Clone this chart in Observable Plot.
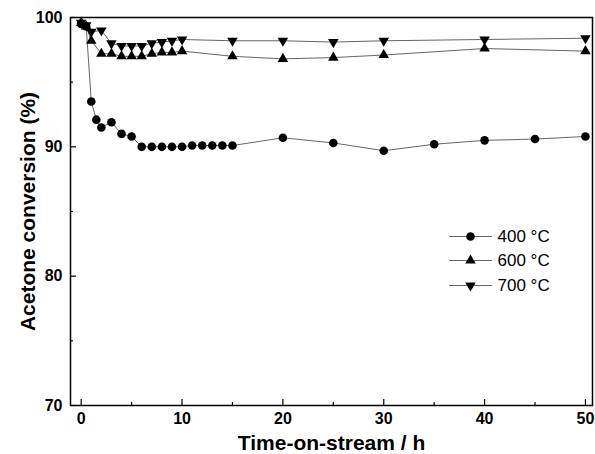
<!DOCTYPE html>
<html><head><meta charset="utf-8">
<script src="https://cdn.jsdelivr.net/npm/d3@7"></script>
<script src="https://cdn.jsdelivr.net/npm/@observablehq/plot@0.6"></script>
<style>
body{margin:0;background:#fff}
#chart svg{font-family:"Liberation Sans",Arial,sans-serif;background:#fff}
</style>
</head><body><div id="chart"></div>
<script>
const seriesNames = ["400 °C", "600 °C", "700 °C"];
const hours400 = [0, 0.5, 1, 1.5, 2, 3, 4, 5, 6, 7, 8, 9, 10, 11, 12, 13, 14, 15, 20, 25, 30, 35, 40, 45, 50];
const conv400  = [99.5, 99.3, 93.5, 92.1, 91.5, 91.9, 91.0, 90.8, 90.0, 90.0, 90.0, 90.0, 90.0, 90.1, 90.1, 90.1, 90.1, 90.1, 90.7, 90.3, 89.7, 90.2, 90.5, 90.6, 90.8];
const hours600 = [0, 0.5, 1, 2, 3, 4, 5, 6, 7, 8, 9, 10, 15, 20, 25, 30, 40, 50];
const conv600  = [99.6, 99.3, 98.2, 97.2, 97.2, 97.0, 97.0, 97.0, 97.2, 97.3, 97.3, 97.4, 97.0, 96.8, 96.9, 97.1, 97.6, 97.4];
const hours700 = [0, 0.5, 1, 2, 3, 4, 5, 6, 7, 8, 9, 10, 15, 20, 25, 30, 40, 50];
const conv700  = [99.6, 99.4, 98.9, 99.0, 98.0, 97.8, 97.8, 97.8, 98.0, 98.1, 98.2, 98.3, 98.2, 98.2, 98.1, 98.2, 98.3, 98.4];
const xMajorTicks = [0, 10, 20, 30, 40, 50];
const xMinorTicks = [5, 15, 25, 35, 45];
const yMajorTicks = [70, 80, 90, 100];
const yMinorTicks = [75, 85, 95];
const xTitle = "Time-on-stream / h";
const yTitle = "Acetone conversion (%)";

const seriesData = [
  hours400.map((h, i) => ({s: seriesNames[0], h, v: conv400[i]})),
  hours600.map((h, i) => ({s: seriesNames[1], h, v: conv600[i]})),
  hours700.map((h, i) => ({s: seriesNames[2], h, v: conv700[i]}))
];
const allRows = seriesData.flat();

const markerStyles = [
  {symbol: "circle", r: 4.3, rotate: 0},
  {symbol: "triangle", r: 3.9, rotate: 0},
  {symbol: "triangle", r: 3.9, rotate: 180}
];

const lineShape = {draw(context, l) { context.moveTo(0, 0); context.lineTo(0, -l); }};

const mL = 70, mT = 17;
const legendY = [236, 260, 285];
const legendMarks = [];
seriesNames.forEach((name, i) => {
  const dy = legendY[i] - mT;
  legendMarks.push(
    Plot.vector([name], {frameAnchor: "top-left", dx: 449 - mL, dy, length: 42, rotate: 90, anchor: "start", shape: lineShape, stroke: "#666", strokeWidth: 1}),
    Plot.dot([name], {frameAnchor: "top-left", dx: 470 - mL, dy, symbol: markerStyles[i].symbol, r: markerStyles[i].r, rotate: markerStyles[i].rotate, fill: "black", stroke: "none"}),
    Plot.text([name], {frameAnchor: "top-left", dx: 497 - mL, dy, text: d => d, textAnchor: "start", lineAnchor: "middle", fontSize: 17, fill: "black"})
  );
});

const chart = Plot.plot({
  width: 595,
  height: 454,
  marginLeft: mL,
  marginRight: 3,
  marginTop: mT,
  marginBottom: 49,
  x: {domain: [-1.06, 50.7], axis: null},
  y: {domain: [70, 100], axis: null},
  marks: [
    Plot.line(allRows, {x: "h", y: "v", z: "s", stroke: "#666", strokeWidth: 1}),
    ...seriesData.map((d, i) => Plot.dot(d, {x: "h", y: "v", symbol: markerStyles[i].symbol, r: markerStyles[i].r, rotate: markerStyles[i].rotate, fill: "black", stroke: "none"})),
    Plot.axisX(xMajorTicks, {anchor: "bottom", tickSize: -6, text: null, label: null, strokeWidth: 1.2}),
    Plot.axisX(xMinorTicks, {anchor: "bottom", tickSize: -3, text: null, label: null, strokeWidth: 1.2}),
    Plot.axisX(xMajorTicks, {anchor: "bottom", tickSize: 0, tickPadding: 7, fontSize: 16, fontWeight: "bold", label: null, fill: "black"}),
    Plot.axisY(yMajorTicks, {anchor: "left", tickSize: -6, text: null, label: null, strokeWidth: 1.2}),
    Plot.axisY(yMinorTicks, {anchor: "left", tickSize: -3, text: null, label: null, strokeWidth: 1.2}),
    Plot.axisY(yMajorTicks, {anchor: "left", tickSize: 0, tickPadding: 8, fontSize: 16, fontWeight: "bold", label: null, fill: "black"}),
    Plot.text([xTitle], {frameAnchor: "bottom", dy: 44, text: d => d, fontSize: 21, fontWeight: "bold", textAnchor: "middle", lineAnchor: "bottom", fill: "black"}),
    Plot.text([yTitle], {frameAnchor: "left", dx: -42, rotate: -90, text: d => d, fontSize: 21, fontWeight: "bold", textAnchor: "middle", lineAnchor: "middle", fill: "black"}),
    ...legendMarks,
    Plot.frame({stroke: "black", strokeWidth: 1.5})
  ]
});
document.getElementById("chart").appendChild(chart);
</script>
</body></html>
